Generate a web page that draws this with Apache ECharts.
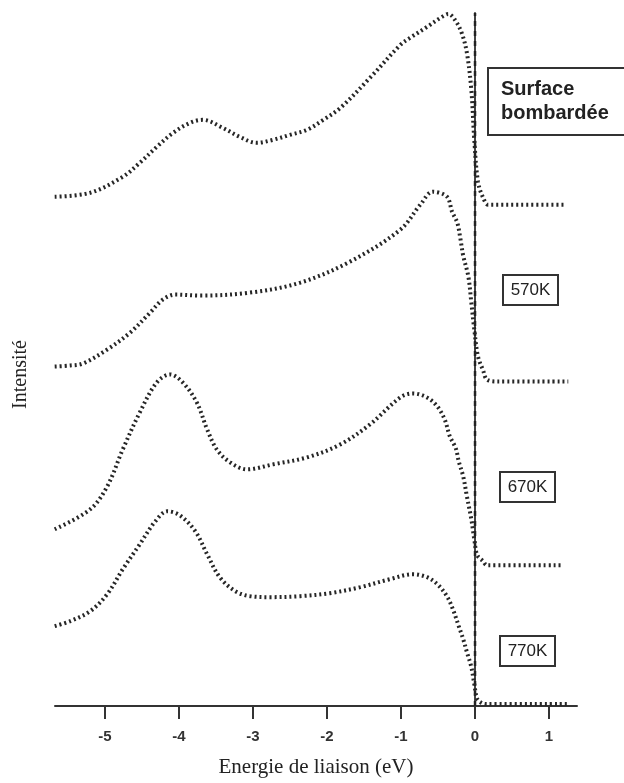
<!DOCTYPE html>
<html>
<head>
<meta charset="utf-8">
<script src="https://cdn.jsdelivr.net/npm/echarts@6/dist/echarts.min.js"></script>
<style>html,body{margin:0;padding:0;background:#fff}#c{width:624px;height:783px}</style>
</head>
<body>
<div id="c"></div>
<script>
// Binding energy (eV) and intensity (arbitrary units)
var xTicks = [-5, -4, -3, -2, -1, 0, 1];
var fermiE = [0, 0];        // vertical reference line at 0 eV
var fermiI = [0, 694];

var bombardeeE = [-5.68,-5.20,-4.76,-4.53,-4.30,-4.08,-3.85,-3.68,-3.41,-3.18,-2.95,-2.73,-2.50,-2.27,-2.05,-1.82,-1.42,-1.01,-0.88,-0.65,-0.47,-0.36,-0.27,-0.18,-0.11,-0.05,-0.01,0.04,0.11,0.18,0.61,1.22];
var bombardeeI = [510,514,530,544,560,574,584,587,579,570,564,567,572,577,587,599,629,662,669,680,689,693,687,674,654,617,567,525,509,502,502,502];

var k570E = [-5.68,-5.47,-5.30,-4.97,-4.66,-4.39,-4.22,-4.05,-3.72,-3.04,-2.36,-1.69,-1.01,-0.74,-0.57,-0.38,-0.31,-0.24,-0.20,-0.16,-0.09,-0.05,-0.01,0.04,0.11,0.16,0.30,1.26];
var k570I = [340,341,343,357,374,394,407,412,411,414,424,445,477,502,515,510,495,484,469,451,430,404,377,350,336,327,325,325];

var k670E = [-5.68,-5.20,-4.97,-4.76,-4.53,-4.30,-4.12,-3.95,-3.76,-3.62,-3.49,-3.31,-3.08,-2.73,-2.27,-1.82,-1.42,-1.01,-0.84,-0.65,-0.51,-0.41,-0.34,-0.26,-0.22,-0.16,-0.11,-0.05,-0.01,0.03,0.11,0.16,1.19];
var k670I = [177,197,220,257,294,324,332,324,304,277,257,244,237,242,249,262,282,309,313,309,300,287,270,258,245,230,210,187,167,151,145,141,141];

var k770E = [-5.68,-5.47,-5.20,-4.97,-4.76,-4.53,-4.32,-4.16,-3.99,-3.78,-3.62,-3.45,-3.24,-3.04,-2.77,-2.36,-1.96,-1.55,-1.15,-0.84,-0.65,-0.51,-0.38,-0.30,-0.22,-0.16,-0.11,-0.05,-0.01,0.03,0.09,0.16,1.26];
var k770I = [80,85,95,112,137,162,185,195,191,175,152,129,115,110,109,110,113,119,127,132,129,122,110,97,80,67,54,39,22,7,3,2,2];

var seriesNames = ['Surface bombardée', '570K', '670K', '770K'];

function pairs(xs, ys) { return xs.map(function (x, i) { return [x, ys[i]]; }); }

var dotStyle = { color: '#262626', width: 4, type: [2, 3], cap: 'butt' };

function curve(name, xs, ys) {
  return {
    name: name, type: 'line', data: pairs(xs, ys),
    showSymbol: false, smooth: 0.35,
    lineStyle: dotStyle, silent: true, z: 3
  };
}

var chart = echarts.init(document.getElementById('c'), null, { renderer: 'canvas' });

var series = [
  {
    name: 'E = 0', type: 'line', data: pairs(fermiE, fermiI), showSymbol: false, silent: true, z: 2,
    lineStyle: { color: '#222', width: 2.5, type: [5, 5], cap: 'butt' }
  },
  curve(seriesNames[0], bombardeeE, bombardeeI),
  curve(seriesNames[1], k570E, k570I),
  curve(seriesNames[2], k670E, k670I),
  curve(seriesNames[3], k770E, k770I)
];

function boxLabel(x, y, w, h, lines, font) {
  return {
    type: 'group', left: x, top: y,
    children: [
      { type: 'rect', shape: { x: 0, y: 0, width: w, height: h },
        style: { fill: '#fff', stroke: '#333', lineWidth: 2 } },
      { type: 'text', x: w / 2, y: h / 2,
        style: { text: lines, font: font, fill: '#222', align: 'center', verticalAlign: 'middle' } }
    ]
  };
}

chart.setOption({
  animation: false,
  backgroundColor: '#fff',
  grid: { left: 55, right: 47, top: 13, bottom: 76 },
  xAxis: {
    type: 'value', min: -5.676, max: 1.378,
    name: 'Energie de liaison (eV)', nameLocation: 'middle', nameGap: 51,
    nameTextStyle: { fontFamily: 'Liberation Serif', fontSize: 21, color: '#222' },
    axisLine: { show: true, lineStyle: { color: '#333', width: 2 } },
    axisTick: { show: true, customValues: xTicks, length: 13, lineStyle: { color: '#333', width: 2 } },
    axisLabel: { customValues: xTicks, margin: 23, fontFamily: 'Liberation Sans', fontSize: 15, fontWeight: 'bold', color: '#333',
      formatter: function (v) { return String(v); } },
    splitLine: { show: false }
  },
  yAxis: {
    type: 'value', min: 0, max: 694,
    name: 'Intensité', nameLocation: 'middle', nameGap: 24, nameRotate: 90,
    nameTextStyle: { fontFamily: 'Liberation Serif', fontSize: 20, color: '#222', padding: [0, 30, 0, 0] },
    axisLine: { show: true, lineStyle: { color: '#444', width: 2 } },
    axisTick: { show: false }, axisLabel: { show: false }, splitLine: { show: false }
  },
  series: series,
  graphic: [
    { type: 'group', left: 487, top: 67, children: [
      { type: 'rect', shape: { x: 0, y: 0, width: 150, height: 67 }, style: { fill: '#fff', stroke: '#333', lineWidth: 2 } },
      { type: 'text', x: 13, y: 33, style: { text: 'Surface\nbombardée', font: 'bold 20px "Liberation Sans"', lineHeight: 24, fill: '#222', align: 'left', verticalAlign: 'middle' } }
    ] },
    boxLabel(502, 274, 55, 30, '570K', '17px "Liberation Sans"'),
    boxLabel(499, 471, 55, 30, '670K', '17px "Liberation Sans"'),
    boxLabel(499, 635, 55, 30, '770K', '17px "Liberation Sans"')
  ]
});
</script>
</body>
</html>
